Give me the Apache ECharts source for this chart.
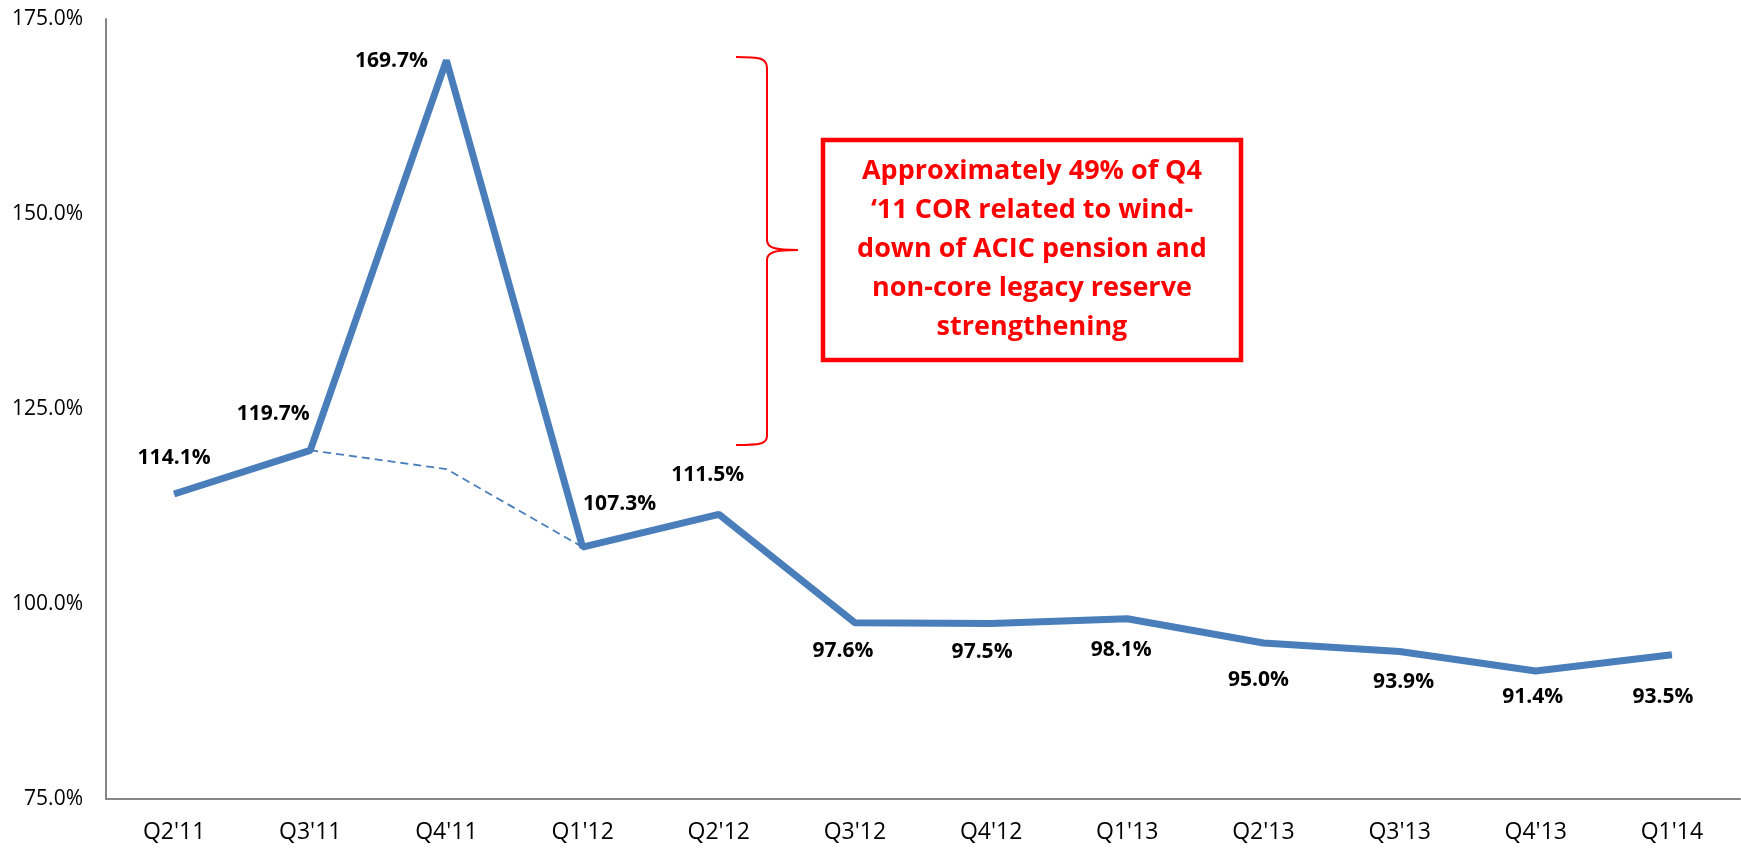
<!DOCTYPE html>
<html>
<head>
<meta charset="utf-8">
<script src="https://cdn.jsdelivr.net/npm/echarts@6/dist/echarts.min.js"></script>
<style>
  html, body { margin: 0; padding: 0; background: #fff; }
  #chart { width: 1741px; height: 851px; }
</style>
</head>
<body>
<div id="chart"></div>
<script>
// quarters and combined ratio (%)
const quarters = ["Q2'11", "Q3'11", "Q4'11", "Q1'12", "Q2'12", "Q3'12", "Q4'12", "Q1'13", "Q2'13", "Q3'13", "Q4'13", "Q1'14"];
const ratio = [114.1, 119.7, 169.7, 107.3, 111.5, 97.6, 97.5, 98.1, 95.0, 93.9, 91.4, 93.5];
// dashed path excluding the Q4'11 special items
const exSpecial = ['-', 119.7, 117.3, 107.3, '-', '-', '-', '-', '-', '-', '-', '-'];
const yTicks = [75, 100, 125, 150, 175];

// label offsets (x, y) from each point, as placed in the original
const labelOffsets = [
  [0, -36], [-37, -36], [-55, 1], [37, -43], [-11, -39], [-12, 28],
  [-9, 29], [-6, 31], [-5, 37], [4, 30], [-3, 26], [-9, 42]
];

const blue = '#4A7EBB';
const red = '#FF0000';
const font = 'Open Sans';

const chart = echarts.init(document.getElementById('chart'));

// curly brace pieces
const braceStyle = { fill: null, stroke: red, lineWidth: 2 };
function curve(x1, y1, cx1, cy1, cx2, cy2, x2, y2) {
  return {
    type: 'bezierCurve',
    shape: { x1: x1, y1: y1, cpx1: cx1, cpy1: cy1, cpx2: cx2, cpy2: cy2, x2: x2, y2: y2 },
    style: braceStyle
  };
}
function seg(x1, y1, x2, y2) {
  return { type: 'line', shape: { x1: x1, y1: y1, x2: x2, y2: y2 }, style: braceStyle };
}

const option = {
  animation: false,
  grid: { left: 106, right: 1, top: 19, bottom: 52 },
  xAxis: {
    type: 'category',
    data: quarters,
    boundaryGap: true,
    axisLine: { lineStyle: { color: '#868686', width: 2 } },
    axisTick: { show: false },
    axisLabel: { color: '#000', fontFamily: font, fontSize: 23, margin: 22 }
  },
  yAxis: {
    type: 'value',
    min: yTicks[0],
    max: yTicks[yTicks.length - 1],
    interval: 25,
    axisLine: { show: true, lineStyle: { color: '#868686', width: 2 } },
    axisTick: { show: false },
    splitLine: { show: false },
    axisLabel: {
      color: '#000', fontFamily: font, fontSize: 21, margin: 23,
      formatter: v => v.toFixed(1) + '%'
    }
  },
  series: [
    {
      type: 'line',
      data: exSpecial,
      symbol: 'none',
      lineStyle: { color: blue, width: 1.8, type: [8, 5] },
      z: 1
    },
    {
      type: 'line',
      data: ratio.map((v, i) => ({
        value: v,
        label: { offset: labelOffsets[i] }
      })),
      symbol: 'circle',
      symbolSize: 1,
      itemStyle: { color: blue },
      lineStyle: { color: blue, width: 7 },
      label: {
        show: true,
        position: 'inside',
        color: '#000',
        fontFamily: font,
        fontWeight: 'bold',
        fontSize: 21,
        formatter: p => p.value.toFixed(1) + '%'
      },
      z: 2
    }
  ],
  graphic: [
    curve(736, 57, 760, 57, 767, 58, 767, 68),
    seg(767, 68, 767, 240),
    curve(767, 240, 767, 248, 775, 250, 798, 250),
    curve(798, 250, 775, 250, 767, 252, 767, 260),
    seg(767, 260, 767, 436),
    curve(767, 436, 767, 444, 760, 445, 736, 445),
    {
      type: 'rect',
      shape: { x: 823, y: 140, width: 418, height: 220 },
      style: { fill: '#fff', stroke: red, lineWidth: 4.5 }
    },
    {
      type: 'text',
      x: 1032,
      y: 249,
      style: {
        text: 'Approximately 49% of Q4\n\u201811 COR related to wind-\ndown of ACIC pension and\nnon-core legacy reserve\nstrengthening',
        fill: red,
        font: 'bold 27px "Open Sans"',
        align: 'center',
        verticalAlign: 'middle',
        lineHeight: 39
      }
    }
  ]
};

chart.setOption(option);
</script>
</body>
</html>
